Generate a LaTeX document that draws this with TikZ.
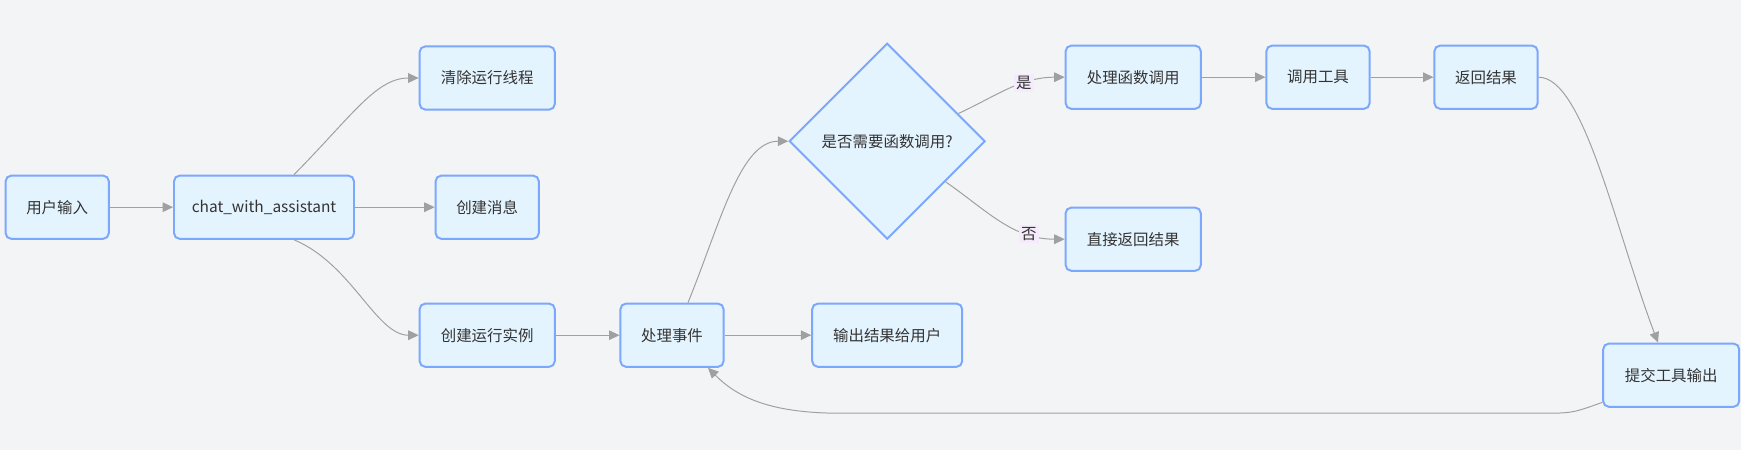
\documentclass[tikz,border=0pt]{standalone}
\usepackage{fontspec}
\setmainfont{Noto Sans CJK SC}
\usepackage{tikz}
\usetikzlibrary{shapes.geometric,arrows.meta,positioning,calc}
\usepackage{xcolor}
\definecolor{pagebg}{HTML}{F3F4F6}
\definecolor{boxfill}{HTML}{E4F4FF}
\definecolor{boxline}{HTML}{7BA7FC}
\definecolor{linkgray}{HTML}{A0A0A0}
\definecolor{lblbg}{HTML}{F5EBFC}
\definecolor{txt}{HTML}{333333}

\begin{document}
\begin{tikzpicture}[
        every node/.style={font=\fontsize{11pt}{13pt}\selectfont, text=txt},
        box/.style={draw=boxline, fill=boxfill, line width=1.4pt, rounded corners=4pt,
                    minimum width=2.58cm, minimum height=1.58cm, inner sep=0pt},
        widebox/.style={box, minimum width=3.38cm},
        decision/.style={draw=boxline, fill=boxfill, line width=1.4pt, diamond, aspect=1,
                    minimum width=4.9cm, minimum height=4.9cm, inner sep=0pt},
        link/.style={draw=linkgray, line width=0.7pt, -{Triangle[length=0.26cm,width=0.24cm]}},
        elabel/.style={fill=lblbg, inner sep=1.5pt},
    ]
        % --- Canvas ---
        \useasboundingbox (0,0) rectangle (43.525,-11.25);
        \fill[pagebg] (0,0) rectangle (43.525,-11.25);

        % --- Entry ---
        \node[box]                         (user)   at (1.43,-5.18)  {用户输入};
        \node[box, minimum width=4.5cm]    (chat)   at (6.6,-5.18)   {chat\_with\_assistant};

        % --- First branch ---
        \node[widebox]                     (clear)  at (12.18,-1.95) {清除运行线程};
        \node[box]                         (msg)    at (12.18,-5.18) {创建消息};
        \node[widebox]                     (run)    at (12.18,-8.38) {创建运行实例};

        % --- Event handling ---
        \node[box]                         (event)  at (16.8,-8.38)  {处理事件};
        \node[box, minimum width=3.75cm]   (output) at (22.18,-8.38) {输出结果给用户};
        \node[decision]                    (decide) at (22.18,-3.53) {是否需要函数调用?};

        % --- Function calls ---
        \node[widebox]                     (func)   at (28.33,-1.93) {处理函数调用};
        \node[box]                         (tool)   at (32.95,-1.93) {调用工具};
        \node[box]                         (ret)    at (37.15,-1.93) {返回结果};
        \node[widebox]                     (direct) at (28.33,-5.98) {直接返回结果};
        \node[box, minimum width=3.4cm]    (submit) at (41.78,-9.38) {提交工具输出};

        % --- Arrows ---
        \draw[link] (user) -- (chat);
        \draw[link] ([xshift=0.75cm]chat.north) .. controls (8.8,-2.9) and (9.4,-1.95) .. (clear.west);
        \draw[link] (chat) -- (msg);
        \draw[link] ([xshift=0.75cm]chat.south) .. controls (8.8,-6.6) and (9.4,-8.38) .. (run.west);
        \draw[link] (run) -- (event);
        \draw[link] ([xshift=0.4cm]event.north) .. controls (18.0,-5.6) and (18.5,-3.53) .. (decide.west);
        \draw[link] (event) -- (output);
        \draw[link] ($(decide.north)!0.72!(decide.east)$) to[out=25,in=180]
            node[pos=0.64, elabel]{是} (func.west);
        \draw[link] ($(decide.east)!0.41!(decide.south)$) to[out=-35,in=180]
            node[pos=0.74, elabel]{否} (direct.west);
        \draw[link] (func) -- (tool);
        \draw[link] (tool) -- (ret);
        \draw[link] (ret.east) .. controls (39.6,-1.93) and (40.4,-5.8) .. ([xshift=-0.33cm]submit.north);
        \draw[link] ([yshift=-0.68cm]submit.west) .. controls (39.3,-10.33) .. (38.5,-10.33)
            -- (21.0,-10.33) .. controls (19.2,-10.33) and (18.4,-9.9) .. ([xshift=0.9cm]event.south);

    \end{tikzpicture}
\end{document}
